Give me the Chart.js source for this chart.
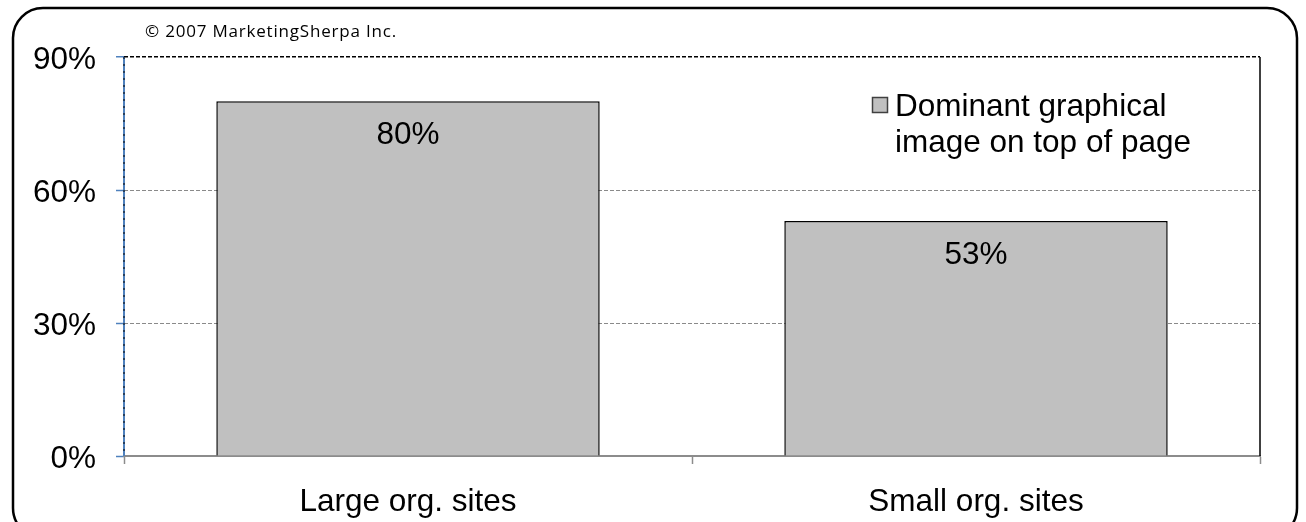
<!DOCTYPE html>
<html>
<head>
<meta charset="utf-8">
<style>
  html, body { margin: 0; padding: 0; background: #ffffff; }
  #wrap { width: 1306px; height: 522px; position: relative; }
</style>
<script src="https://cdn.jsdelivr.net/npm/chart.js@4.4.1/dist/chart.umd.min.js"></script>
</head>
<body>
<div id="wrap"><canvas id="chart" width="1306" height="522"></canvas></div>
<script>
// Site categories and the share of sites with a dominant graphical image on top
const categories = ['Large org. sites', 'Small org. sites'];
const seriesName = ['Dominant graphical', 'image on top of page'];
const shareValues = [80, 53];
const yTickValues = [0, 30, 60, 90];
const copyrightText = '\u00A9 2007 MarketingSherpa Inc.';

const FONT = '"Liberation Sans", Arial, sans-serif';
const FONT_SIZE = 31.5;
const BAR_FILL = '#C0C0C0';
const AXIS_BLUE = '#4f81bd';

// Frame, copyright line, plot border, value labels and the legend
const decorations = {
  id: 'decorations',
  beforeDraw(chart) {
    const ctx = chart.ctx;
    ctx.save();
    ctx.fillStyle = '#ffffff';
    ctx.fillRect(0, 0, chart.width, chart.height);
    ctx.restore();
  },
  afterDraw(chart) {
    const ctx = chart.ctx;
    const area = chart.chartArea;
    ctx.save();

    // rounded outer frame
    ctx.strokeStyle = '#000000';
    ctx.lineWidth = 2.5;
    ctx.beginPath();
    ctx.roundRect(13, 8, 1284, 530, 30);
    ctx.stroke();

    // right edge of the plot area
    ctx.lineWidth = 1.5;
    ctx.beginPath();
    ctx.moveTo(area.right, area.top);
    ctx.lineTo(area.right, area.bottom);
    ctx.stroke();

    // value axis line: blue with a dotted black core
    ctx.strokeStyle = AXIS_BLUE;
    ctx.lineWidth = 2;
    ctx.beginPath();
    ctx.moveTo(area.left, area.top);
    ctx.lineTo(area.left, area.bottom);
    ctx.stroke();
    ctx.strokeStyle = '#000000';
    ctx.lineWidth = 1;
    ctx.setLineDash([2, 5]);
    ctx.beginPath();
    ctx.moveTo(area.left, area.top);
    ctx.lineTo(area.left, area.bottom);
    ctx.stroke();
    ctx.setLineDash([]);

    // copyright line
    ctx.fillStyle = '#000000';
    ctx.font = '17px "Open Sans", Lato, sans-serif';
    ctx.letterSpacing = '0.8px';
    ctx.textAlign = 'left';
    ctx.textBaseline = 'alphabetic';
    ctx.fillText(copyrightText, 145, 37);
    ctx.letterSpacing = '0px';

    // value labels inside the bars
    ctx.font = FONT_SIZE + 'px ' + FONT;
    ctx.textAlign = 'center';
    const meta = chart.getDatasetMeta(0);
    meta.data.forEach((bar, i) => {
      ctx.fillText(shareValues[i] + '%', bar.x, bar.y + 43);
    });

    // legend: swatch plus two-line label
    ctx.fillStyle = BAR_FILL;
    ctx.fillRect(872.5, 97.5, 15, 15);
    ctx.strokeStyle = '#404040';
    ctx.lineWidth = 1.5;
    ctx.strokeRect(872.5, 97.5, 15, 15);
    ctx.fillStyle = '#000000';
    ctx.textAlign = 'left';
    ctx.fillText(seriesName[0], 895, 116);
    ctx.fillText(seriesName[1], 895, 152);

    ctx.restore();
  }
};

new Chart(document.getElementById('chart'), {
  type: 'bar',
  data: {
    labels: categories,
    datasets: [{
      label: seriesName.join(' '),
      data: shareValues,
      backgroundColor: BAR_FILL,
      borderColor: '#000000',
      borderWidth: 1.5,
      borderSkipped: 'bottom',
      barPercentage: 0.675,
      categoryPercentage: 1.0
    }]
  },
  options: {
    responsive: false,
    animation: false,
    devicePixelRatio: 1,
    layout: { padding: { top: 57, right: 46, left: 0, bottom: 0 } },
    plugins: {
      legend: { display: false },
      tooltip: { enabled: false }
    },
    scales: {
      x: {
        afterFit(scale) { scale.height = 66; },
        grid: {
          offset: true,
          drawOnChartArea: false,
          drawTicks: true,
          tickLength: 8,
          tickColor: '#8c8c8c',
          tickWidth: 1.5
        },
        border: { display: true, color: '#8c8c8c', width: 2 },
        ticks: {
          color: '#000000',
          font: { family: FONT, size: FONT_SIZE },
          padding: 19,
          maxRotation: 0
        }
      },
      y: {
        min: 0,
        max: 90,
        afterFit(scale) { scale.width = 124; },
        afterBuildTicks(scale) {
          scale.ticks = yTickValues.map(v => ({ value: v }));
        },
        grid: {
          drawTicks: true,
          tickLength: 8,
          tickColor: AXIS_BLUE,
          tickWidth: 1.5,
          tickBorderDash: [],
          color(ctx) {
            const v = ctx.tick && ctx.tick.value;
            if (v === 0) return 'rgba(0,0,0,0)';
            if (v === 90) return '#000000';
            return '#8a8a8a';
          },
          lineWidth(ctx) {
            return ctx.tick && ctx.tick.value === 90 ? 1.5 : 1;
          }
        },
        border: { display: false, dash: [4, 2] },
        ticks: {
          color: '#000000',
          font: { family: FONT, size: FONT_SIZE },
          padding: 20,
          labelOffset: 3,
          callback: v => v + '%'
        }
      }
    }
  },
  plugins: [decorations]
});
</script>
</body>
</html>
